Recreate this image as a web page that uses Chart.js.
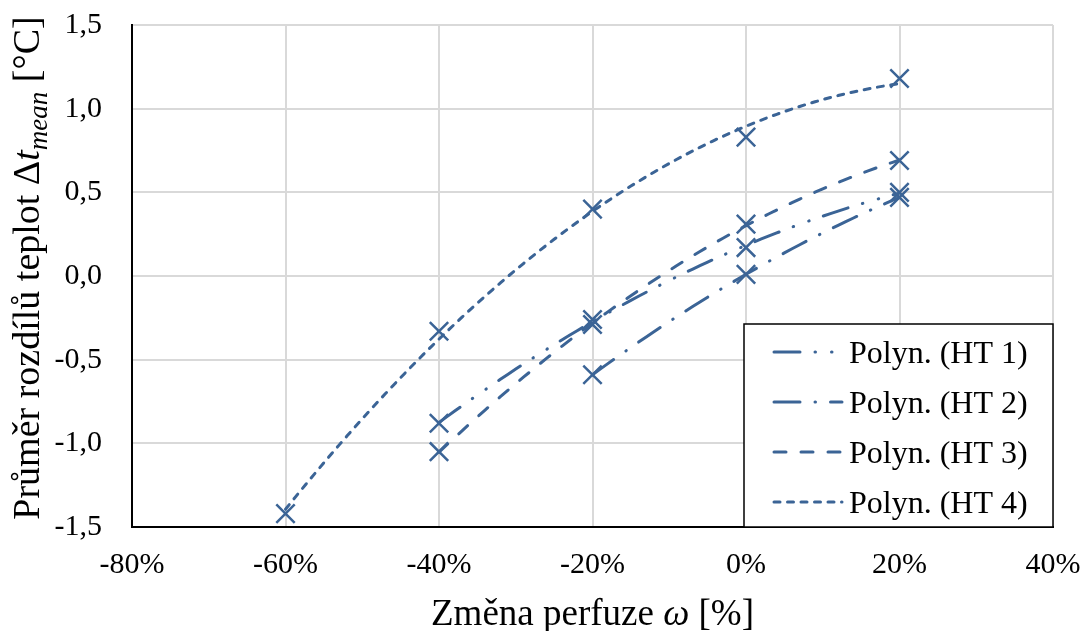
<!DOCTYPE html>
<html>
<head>
<meta charset="utf-8">
<script src="https://cdn.jsdelivr.net/npm/chart.js@4.4.1/dist/chart.umd.min.js"></script>
<style>
  html, body { margin: 0; padding: 0; background: #fff; }
  canvas { display: block; }
</style>
</head>
<body>
<canvas id="chart" width="1083" height="631"></canvas>
<script>
// měřené body: změna perfuze [%] a průměr rozdílů teplot [°C]
const perfuze = [-60, -40, -20, 0, 20];
const ht1 = [null, -0.88, -0.26, 0.17, 0.50];
const ht2 = [null, null, -0.59, 0.01, 0.47];
const ht3 = [null, -1.05, -0.29, 0.31, 0.69];
const ht4 = [-1.42, -0.33, 0.40, 0.83, 1.18];
const names = ['HT 1', 'HT 2', 'HT 3', 'HT 4'];
const xTicks = [-80, -60, -40, -20, 0, 20, 40];
const yTicks = [-1.5, -1.0, -0.5, 0.0, 0.5, 1.0, 1.5];

const BLUE = '#3B6496';
const SERIF = "'Liberation Serif', 'Times New Roman', serif";
const dashes = [[26, 15, 0.5, 16, 0.5, 15], [26, 15, 0.5, 15], [12, 15], [6, 7.5]];

// kvadratický trend (jako "Polyn." v Excelu), metoda nejmenších čtverců
function fit2(xs, ys){
  let n=0, s1=0, s2=0, s3=0, s4=0, t0=0, t1=0, t2=0;
  xs.forEach((x,i)=>{ const y=ys[i]; n++; s1+=x; s2+=x*x; s3+=x*x*x; s4+=x*x*x*x; t0+=y; t1+=x*y; t2+=x*x*y; });
  const det = (m)=> m[0][0]*(m[1][1]*m[2][2]-m[1][2]*m[2][1]) - m[0][1]*(m[1][0]*m[2][2]-m[1][2]*m[2][0]) + m[0][2]*(m[1][0]*m[2][1]-m[1][1]*m[2][0]);
  const A = [[n,s1,s2],[s1,s2,s3],[s2,s3,s4]];
  const T = [t0,t1,t2];
  const D = det(A);
  const col = (k)=> A.map((r,i)=> r.map((v,j)=> j===k ? T[i] : v));
  return [det(col(0))/D, det(col(1))/D, det(col(2))/D];
}

function points(vals){
  return perfuze.map((x,i)=>({x, y: vals[i]})).filter(p=>p.y!==null);
}

function trend(vals){
  const pts = points(vals);
  const [a,b,c] = fit2(pts.map(p=>p.x), pts.map(p=>p.y));
  const out = [];
  for(let x=pts[0].x; x<=pts[pts.length-1].x; x+=1) out.push({x, y: a + b*x + c*x*x});
  return out;
}

const all = [ht1, ht2, ht3, ht4];
const datasets = [];
all.forEach((vals,i)=>{
  datasets.push({type:'line', label:'Polyn. ('+names[i]+')', data: trend(vals), borderColor: BLUE, borderWidth: 3,
    borderDash: dashes[i], borderCapStyle: 'round', pointRadius: 0, tension: 0, fill: false, isTrend: true});
});
all.forEach((vals,i)=>{
  datasets.push({type:'scatter', label: names[i], data: points(vals), borderColor: BLUE, backgroundColor: BLUE,
    pointStyle: 'crossRot', pointRadius: 13, pointBorderWidth: 2.5, showLine: false});
});

function drawParts(ctx, parts, x, y){
  let cx = x;
  parts.forEach(p=>{ ctx.font = p.f; ctx.fillText(p.t, cx, y + (p.dy||0)); cx += ctx.measureText(p.t).width; });
}
function partsWidth(ctx, parts){
  return parts.reduce((w,p)=>{ ctx.font = p.f; return w + ctx.measureText(p.t).width; }, 0);
}

const titles = {
  id: 'titles',
  afterDraw(chart){
    const ctx = chart.ctx, a = chart.chartArea;
    ctx.save();
    ctx.fillStyle = '#000';
    ctx.textBaseline = 'alphabetic';
    ctx.textAlign = 'left';
    const xt = [
      {t:'Změna perfuze ', f:'37px '+SERIF},
      {t:'ω', f:'italic 37px '+SERIF},
      {t:' [%]', f:'37px '+SERIF}
    ];
    const cx = (a.left + a.right)/2;
    drawParts(ctx, xt, cx - partsWidth(ctx, xt)/2, 625);

    const yt = [
      {t:'Průměr rozdílů teplot Δ', f:'38px '+SERIF},
      {t:'t', f:'italic 38px '+SERIF},
      {t:'mean', f:'italic 27px '+SERIF, dy: 8},
      {t:' [°C]', f:'38px '+SERIF}
    ];
    ctx.translate(39, 268);
    ctx.rotate(-Math.PI/2);
    drawParts(ctx, yt, -partsWidth(ctx, yt)/2, 0);
    ctx.restore();
  }
};

const legendBox = {
  id: 'legendBox',
  afterDatasetsDraw(chart){
    const ctx = chart.ctx;
    const bx = 744, by = 324, bw = 309, bh = 203;
    ctx.save();
    ctx.fillStyle = '#fff';
    ctx.fillRect(bx, by, bw, bh);
    ctx.strokeStyle = '#000';
    ctx.lineWidth = 1.5;
    ctx.strokeRect(bx, by, bw, bh);
    const trends = chart.data.datasets.filter(d=>d.isTrend);
    trends.forEach((d,i)=>{
      const y = 352 + i*50;
      ctx.beginPath();
      ctx.setLineDash(d.borderDash);
      ctx.lineCap = 'round';
      ctx.lineWidth = 3;
      ctx.strokeStyle = d.borderColor;
      ctx.moveTo(774, y);
      ctx.lineTo(842, y);
      ctx.stroke();
      ctx.setLineDash([]);
      ctx.fillStyle = '#000';
      ctx.font = '32px '+SERIF;
      ctx.textBaseline = 'alphabetic';
      ctx.fillText(d.label, 849, y + 10.5);
    });
    ctx.restore();
  }
};

const fmtY = v => (Math.abs(v) < 1e-9 ? 0 : v).toFixed(1).replace('.', ',');

new Chart(document.getElementById('chart'), {
  data: { datasets },
  options: {
    responsive: false,
    devicePixelRatio: 1,
    animation: false,
    layout: { padding: { top: 25, right: 30, left: 0, bottom: 0 } },
    plugins: { legend: { display: false }, tooltip: { enabled: false } },
    scales: {
      x: {
        type: 'linear', min: -80, max: 40,
        afterBuildTicks: s => { s.ticks = xTicks.map(v=>({value: v})); },
        afterFit: s => { s.height = 104; s.paddingLeft = 0; s.paddingRight = 0; },
        grid: { color: c => (c.tick && c.tick.value === -80) ? 'rgba(0,0,0,0)' : '#D9D9D9', lineWidth: 2, drawTicks: false },
        border: { display: true, color: '#000', width: 2 },
        ticks: { color: '#000', font: { family: SERIF, size: 30 }, padding: 20, maxRotation: 0, autoSkip: false,
          callback: v => v + '%' }
      },
      y: {
        type: 'linear', min: -1.5, max: 1.5,
        afterBuildTicks: s => { s.ticks = yTicks.map(v=>({value: v})); },
        afterFit: s => { s.width = 132; s.paddingTop = 0; s.paddingBottom = 0; },
        grid: { color: c => (c.tick && c.tick.value === -1.5) ? 'rgba(0,0,0,0)' : '#D9D9D9', lineWidth: 2, drawTicks: false },
        border: { display: true, color: '#000', width: 2 },
        ticks: { color: '#000', font: { family: SERIF, size: 30 }, padding: 30, autoSkip: false, callback: v => fmtY(v) }
      }
    }
  },
  plugins: [titles, legendBox]
});
</script>
</body>
</html>
